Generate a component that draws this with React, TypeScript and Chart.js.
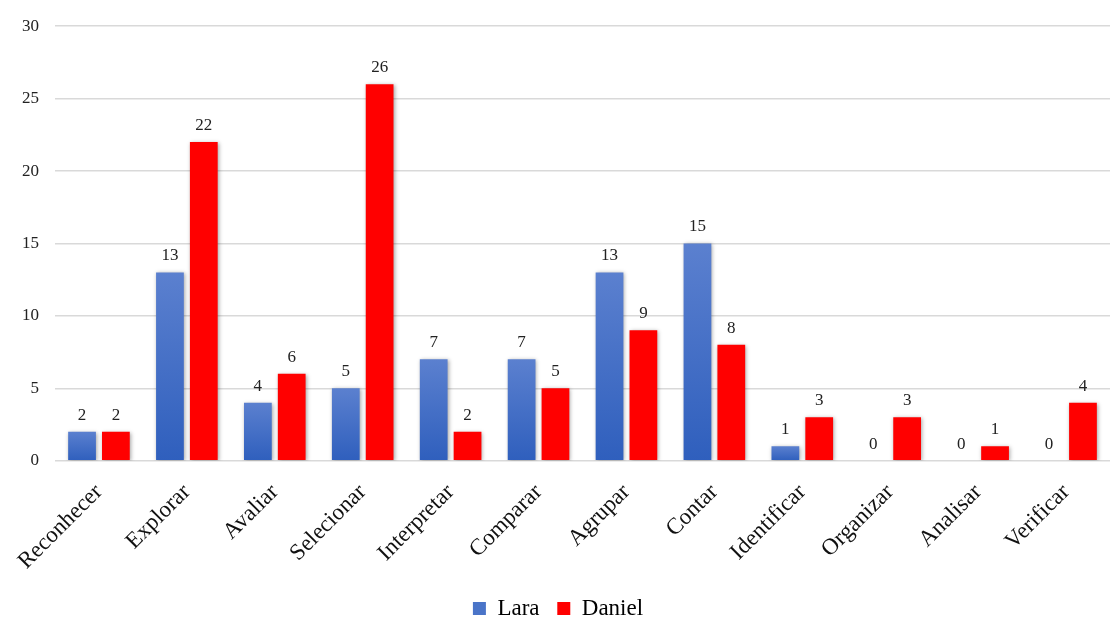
import React, { useEffect, useRef } from "react";
import { Chart, registerables } from "chart.js";

Chart.register(...registerables);

const categories = [
  "Reconhecer",
  "Explorar",
  "Avaliar",
  "Selecionar",
  "Interpretar",
  "Comparar",
  "Agrupar",
  "Contar",
  "Identificar",
  "Organizar",
  "Analisar",
  "Verificar",
];
const laraValues = [2, 13, 4, 5, 7, 7, 13, 15, 1, 0, 0, 0];
const danielValues = [2, 22, 6, 26, 2, 5, 9, 8, 3, 3, 1, 4];
const yTicks = [0, 5, 10, 15, 20, 25, 30];

const FONT = "'Liberation Serif', 'Times New Roman', serif";

// Soft drop shadow behind the bars
const barShadow = {
  id: "barShadow",
  beforeDatasetsDraw(chart: any) {
    const ctx = chart.ctx;
    ctx.save();
    ctx.shadowColor = "rgba(0,0,0,0.35)";
    ctx.shadowBlur = 4;
    ctx.shadowOffsetX = 1;
    ctx.shadowOffsetY = 1;
  },
  afterDatasetsDraw(chart: any) {
    chart.ctx.restore();
  },
};

// Value labels above each bar
const valueLabels = {
  id: "valueLabels",
  afterDatasetsDraw(chart: any) {
    const ctx = chart.ctx;
    ctx.save();
    ctx.font = `17px ${FONT}`;
    ctx.fillStyle = "#222";
    ctx.textAlign = "center";
    ctx.textBaseline = "bottom";
    chart.data.datasets.forEach((ds: any, i: number) => {
      const meta = chart.getDatasetMeta(i);
      meta.data.forEach((bar: any, j: number) => {
        ctx.fillText(String(ds.data[j]), bar.x, bar.y - 8);
      });
    });
    ctx.restore();
  },
};

function laraGradient(context: any) {
  const { chart } = context;
  const area = chart.chartArea;
  if (!area) return "#4472c4";
  const scale = chart.scales.y;
  const v = context.raw ?? 0;
  const top = scale.getPixelForValue(v);
  const bottom = scale.getPixelForValue(0);
  if (!isFinite(top) || bottom - top < 1) return "#4a74c8";
  const g = chart.ctx.createLinearGradient(0, top, 0, bottom);
  g.addColorStop(0, "#5b80cf");
  g.addColorStop(1, "#2f5fbd");
  return g;
}

export default function App() {
  const ref = useRef<HTMLCanvasElement | null>(null);

  useEffect(() => {
    document.body.style.margin = "0";
    if (!ref.current) return;
    const chart = new Chart(ref.current, {
      type: "bar",
      data: {
        labels: categories,
        datasets: [
          {
            label: "Lara",
            data: laraValues,
            backgroundColor: laraGradient,
            borderWidth: 0,
            categoryPercentage: 0.77,
            barPercentage: 0.82,
          },
          {
            label: "Daniel",
            data: danielValues,
            backgroundColor: "#ff0000",
            borderWidth: 0,
            categoryPercentage: 0.77,
            barPercentage: 0.82,
          },
        ],
      },
      options: {
        animation: false,
        responsive: false,
        maintainAspectRatio: false,
        layout: { padding: { left: 6, right: 0, top: 14, bottom: -8 } },
        plugins: {
          legend: {
            position: "bottom",
            labels: {
              font: { family: FONT, size: 23 },
              color: "#111",
              boxWidth: 13,
              boxHeight: 13,
              padding: 12,
              generateLabels: () => [
                { text: "Lara ", fillStyle: "#4a74c8", strokeStyle: "#4a74c8", lineWidth: 0, datasetIndex: 0 },
                { text: "Daniel", fillStyle: "#ff0000", strokeStyle: "#ff0000", lineWidth: 0, datasetIndex: 1 },
              ],
            },
          },
          tooltip: { enabled: false },
        },
        scales: {
          x: {
            grid: { display: false },
            border: { display: false },
            ticks: {
              font: { family: FONT, size: 23 },
              color: "#111",
              minRotation: 45,
              maxRotation: 45,
              padding: 10,
            },
          },
          y: {
            min: 0,
            max: 30,
            afterBuildTicks: (axis: any) => {
              axis.ticks = yTicks.map((v) => ({ value: v }));
            },
            grid: { color: "#d9d9d9", lineWidth: 1.5, drawTicks: false },
            border: { display: false },
            ticks: {
              font: { family: FONT, size: 17 },
              color: "#222",
              padding: 16,
            },
          },
        },
      },
      plugins: [barShadow, valueLabels],
    });
    return () => chart.destroy();
  }, []);

  return (
    <div style={{ width: 1110, height: 622, background: "#fff" }}>
      <canvas ref={ref} width={1110} height={622} style={{ display: "block" }} />
    </div>
  );
}
